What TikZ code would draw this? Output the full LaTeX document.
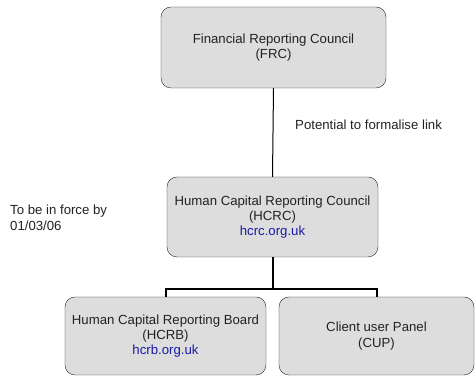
\documentclass[tikz,border=0pt]{standalone}
\usepackage{fontspec}
\setmainfont{Liberation Sans}
\usepackage{tikz}
\definecolor{boxgrey}{HTML}{DDDDDD}
\definecolor{linkblue}{HTML}{1A1AA6}
\definecolor{inkgrey}{HTML}{222222}
\tikzset{
    body box/.style={draw=inkgrey,fill=boxgrey,rounded corners=10pt,align=center,
                     inner sep=0pt,font=\fontsize{13.2}{15.2}\selectfont,text=inkgrey},
    note text/.style={align=left,anchor=west,inner sep=0pt,
                      font=\fontsize{13.2}{16.5}\selectfont,text=inkgrey},
    bus line/.style={draw=black,line width=2pt},
}

\begin{document}
\begin{tikzpicture}[x=1pt,y=1pt]
\useasboundingbox (0,0) rectangle (475,377);

% the four bodies
\node [body box,minimum width=225,minimum height=81] (frc) at (273.5,329.5)
      {Financial Reporting Council\\(FRC)};
\node [body box,minimum width=211,minimum height=80] (hcrc) at (272.5,160)
      {Human Capital Reporting Council\\(HCRC)\\\textcolor{linkblue}{hcrc.org.uk}};
\node [body box,minimum width=201,minimum height=78] (hcrb) at (165.5,41)
      {Human Capital Reporting Board\\(HCRB)\\\textcolor{linkblue}{hcrb.org.uk}};
\node [body box,minimum width=195,minimum height=78] (cup) at (376.5,41)
      {Client user Panel\\(CUP)};

% side notes
\node [note text] (linknote) at (295,252) {Potential to formalise link};
\node [note text] (force) at (10,159) {To be in force by\\01/03/06};

% connectors
\draw [line width=1pt] (frc.south) -- (hcrc.north);
\coordinate (bus) at ([yshift=-32]hcrc.south);
\draw [bus line] (hcrc.south) -- (bus);
\draw [bus line] (hcrb.north) |- (bus) -| (cup.north);

\end{tikzpicture}
\end{document}
